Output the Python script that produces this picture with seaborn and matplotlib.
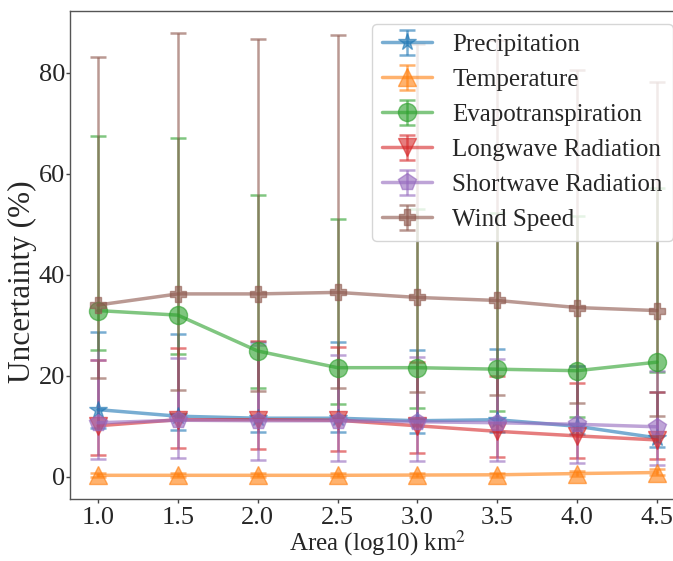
import numpy as np
import matplotlib
matplotlib.use('Agg')
import matplotlib.pyplot as plt
import seaborn as sns

area = [1.0, 1.5, 2.0, 2.5, 3.0, 3.5, 4.0, 4.5]

precip_mean = [13.3, 12.0, 11.6, 11.6, 11.1, 11.3, 10.0, 7.7]
precip_low = [9.7, 9.3, 8.8, 8.8, 8.6, 8.8, 8.5, 6.0]
precip_high = [28.7, 28.2, 26.7, 26.6, 25.0, 25.3, 22.0, 16.8]

temp_mean = [0.3, 0.3, 0.3, 0.3, 0.35, 0.4, 0.65, 0.85]
temp_low = [0.0, 0.0, 0.0, 0.0, 0.0, 0.05, 0.2, 0.3]
temp_high = [0.7, 0.7, 0.7, 0.7, 0.75, 0.8, 1.2, 1.5]

et_mean = [32.9, 32.0, 24.9, 21.6, 21.6, 21.3, 21.0, 22.7]
et_low = [25.0, 24.3, 17.5, 14.4, 13.6, 13.1, 11.9, 20.8]
et_high = [67.4, 67.0, 55.8, 51.0, 53.0, 52.3, 51.6, 57.1]

lw_mean = [10.1, 11.3, 11.3, 11.2, 10.1, 9.0, 8.1, 7.3]
lw_low = [4.4, 5.8, 5.6, 5.1, 4.7, 4.0, 3.8, 3.6]
lw_high = [23.1, 25.4, 26.8, 25.6, 22.8, 20.0, 18.5, 16.8]

sw_mean = [10.7, 11.2, 11.1, 11.1, 10.9, 10.7, 10.4, 9.9]
sw_low = [3.6, 3.8, 3.3, 3.2, 3.2, 3.2, 2.7, 2.3]
sw_high = [23.1, 23.6, 26.0, 24.1, 23.8, 23.3, 22.0, 21.0]

wind_mean = [34.0, 36.2, 36.2, 36.5, 35.5, 34.9, 33.5, 32.9]
wind_low = [19.5, 17.2, 16.9, 17.5, 16.7, 16.2, 14.7, 12.1]
wind_high = [83.0, 87.8, 86.6, 87.4, 85.6, 86.5, 80.6, 78.2]

variables = ['Precipitation', 'Temperature', 'Evapotranspiration',
             'Longwave Radiation', 'Shortwave Radiation', 'Wind Speed']
means = [precip_mean, temp_mean, et_mean, lw_mean, sw_mean, wind_mean]
lows = [precip_low, temp_low, et_low, lw_low, sw_low, wind_low]
highs = [precip_high, temp_high, et_high, lw_high, sw_high, wind_high]
markers = ['*', '^', 'o', 'v', 'p', 'P']
msizes = [13, 13, 13, 13, 13, 12]

sns.set_theme(style='ticks')
plt.rcParams['font.family'] = ['Liberation Serif', 'DejaVu Serif']
plt.rcParams['mathtext.fontset'] = 'stix'
colors = sns.color_palette('tab10', 6)

fig = plt.figure(figsize=(6.73, 5.61), dpi=100)
# axes runs past the right edge like the cropped original
ax = fig.add_axes([70 / 673, 1 - 499 / 561, 615 / 673, 488 / 561])

for name, m, lo, hi, mk, ms, c in zip(variables, means, lows, highs, markers, msizes, colors):
    m = np.array(m)
    yerr = [m - np.array(lo), np.array(hi) - m]
    ax.errorbar(area, m, yerr=yerr, label=name, color=c, marker=mk, markersize=ms,
                linewidth=2.5, elinewidth=1.8, capsize=6, capthick=1.8, alpha=0.6)

ax.set_xticks(area)
ax.set_xticklabels([f'{v:.1f}' for v in area])
ax.set_yticks([0, 20, 40, 60, 80])
ax.tick_params(labelsize=19, length=3, width=1, color='#444444')
ax.tick_params(axis='x', pad=3)
ax.tick_params(axis='y', pad=0.5)
for s in ax.spines.values():
    s.set_color('#555555')
    s.set_linewidth(1)
ax.set_xlabel('Area (log10) km$^2$', fontsize=18, labelpad=-1)
ax.set_ylabel('Uncertainty (%)', fontsize=22.5, labelpad=1, y=0.445)
ax.legend(loc='upper right', fontsize=18, frameon=True)

fig.savefig('out.png', dpi=100)
